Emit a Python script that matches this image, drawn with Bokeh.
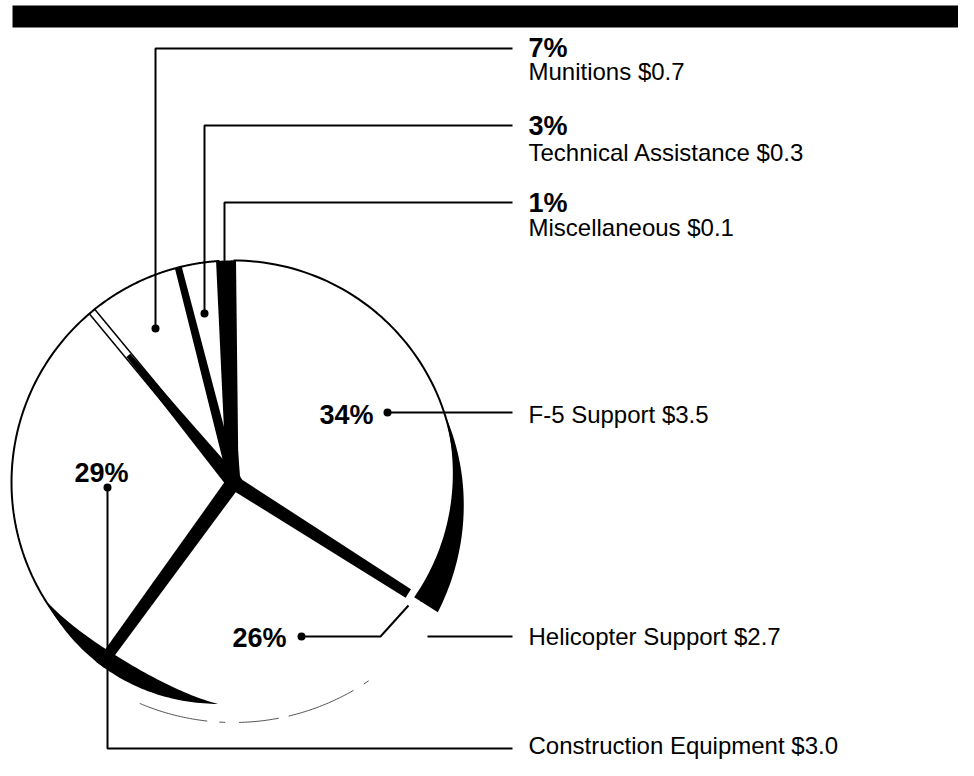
import numpy as np
from bokeh.plotting import figure
from bokeh.models import Range1d
from bokeh.embed import file_html
from bokeh.resources import INLINE
from bokeh.core.properties import value

# ---------------- data ----------------
categories = ["F-5 Support", "Helicopter Support", "Construction Equipment",
              "Munitions", "Technical Assistance", "Miscellaneous"]
amounts = [3.5, 2.7, 3.0, 0.7, 0.3, 0.1]          # $ values
percents = [34, 26, 29, 7, 3, 1]                   # share of total

# ---------------- layout / style ----------------
W, H = 958, 760
FONT = "Liberation Sans"
PCT_SIZE, LAB_SIZE = 27, 24
PCT_SHIFT, LAB_SHIFT = 10, 9                       # renderer baseline correction
CX, CY, R = 233.0, 482.0, 222.0                    # pie apex and radius (screen px)
slice_fill = ["white", "white", "white", "white", "white", "black"]
slice_rextra = [0, 18, 0, 0, 0, 0]

p = figure(width=W, height=H, x_range=Range1d(0, W), y_range=Range1d(H, 0),
           output_backend="svg", toolbar_location=None, min_border=0,
           x_axis_location=None, y_axis_location=None)
p.grid.visible = False
p.outline_line_color = None
p.background_fill_color = "white"
p.border_fill_color = "white"


def pt(r, ang, cx=CX, cy=CY):
    a = np.radians(ang)
    return cx + r * np.cos(a), cy - r * np.sin(a)


# angles of slices (clockwise from 12 o'clock)
starts, ends = [], []
a = 90.0
for pc in percents:
    starts.append(a)
    a -= pc * 3.6
    ends.append(a)

# header bar
p.quad(left=[12], right=[W], top=[5], bottom=[27], fill_color="black", line_color=None)

# slices
order = [1, 2, 3, 4, 0, 5]
xs, ys, fills = [], [], []
for i in order:
    rr = R + slice_rextra[i]
    angs = np.linspace(starts[i], ends[i], 80)
    px, py = pt(rr, angs)
    xs.append([CX] + list(px))
    ys.append([CY] + list(py))
    fills.append(slice_fill[i])
p.patches(xs=xs, ys=ys, fill_color=fills, line_color=None)

# rims
rim_x, rim_y = [], []
for i in [0, 2, 3, 4]:
    angs = np.linspace(starts[i], ends[i], 80)
    px, py = pt(R, angs)
    rim_x.append(list(px))
    rim_y.append(list(py))
p.multi_line(xs=rim_x, ys=rim_y, line_color="black", line_width=2)

# thin radial lines at construction / munitions edge
for off in (-3.5, 3.5):
    ang = starts[3]
    nx, ny = np.sin(np.radians(ang)), np.cos(np.radians(ang))
    x0, y0 = CX + off * nx, CY + off * ny
    x1, y1 = pt(R, ang, x0, y0)
    p.line([x0, x1], [y0, y1], line_color="black", line_width=1.5)

# black separator bands (boundary angle, width at apex, width at end, end radius)
band_specs = [
    (starts[0], 10, 5, R),
    (ends[0], 14, 10, 207),
    (ends[1], 15, 11, R + 4),
    (starts[3], 15, 5, 165),
    (starts[4], 10, 7, R),
    (starts[5], 14, 7, R),
]
bx, by = [], []
for ang, w0, w1, re in band_specs:
    ar = np.radians(ang)
    ux, uy = np.cos(ar), -np.sin(ar)
    nx, ny = np.sin(ar), np.cos(ar)
    ex, ey = CX + ux * re, CY + uy * re
    bx.append([CX + nx * w0 / 2, ex + nx * w1 / 2, ex - nx * w1 / 2, CX - nx * w0 / 2])
    by.append([CY + ny * w0 / 2, ey + ny * w1 / 2, ey - ny * w1 / 2, CY - ny * w0 / 2])
p.patches(xs=bx, ys=by, fill_color="black", line_color=None)
p.scatter([CX], [CY], size=18, fill_color="black", line_color=None)

# F-5 shaded side
phi = np.linspace(18, ends[0], 60)
f = (18 - phi) / (18 - ends[0])
ox, oy = pt(R + 20 * f, phi)
ix, iy = pt(R - 8 * f, phi)
p.patch(list(ox) + list(ix[::-1]), list(oy) + list(iy[::-1]), fill_color="black", line_color=None)

# lower-left shaded side
phi = np.linspace(212, 266, 60)
s = np.sin(np.pi * (phi - 212) / 54)
ox, oy = pt(R + 4 * s, phi)
ix, iy = pt(R - 13 * s, phi)
p.patch(list(ox) + list(ix[::-1]), list(oy) + list(iy[::-1]), fill_color="black", line_color=None)

# faint helicopter rim
angs = np.linspace(-113, -55, 80)
hx, hy = pt(R + 18, angs)
p.line(list(hx), list(hy), line_color="#555555", line_width=1, line_dash="70 12 6 14 40 10")

# ---------------- leaders & labels ----------------
# pct / lab give the desired visual baseline of the texts
leaders = {
    "F-5 Support": dict(path=[[(387, 412), (512, 412)]], dot=(387, 412),
                        pct=(373, 424, "right"), lab=(528, 423)),
    "Helicopter Support": dict(path=[[(301, 636), (380, 636), (408, 605)], [(427, 636), (512, 636)]],
                               dot=(301, 636), pct=(286, 647, "right"), lab=(528, 645)),
    "Construction Equipment": dict(path=[[(107, 487), (107, 748), (512, 748)]], dot=(107, 487),
                                   pct=(101, 482, "center"), lab=(528, 754)),
    "Munitions": dict(path=[[(155, 328), (155, 48), (512, 48)]], dot=(155, 328),
                      pct=(528, 57, "left"), lab=(528, 80)),
    "Technical Assistance": dict(path=[[(204, 313), (204, 125), (512, 125)]], dot=(204, 313),
                                 pct=(528, 135, "left"), lab=(528, 161)),
    "Miscellaneous": dict(path=[[(224, 263), (224, 202), (512, 202)]], dot=None,
                          pct=(528, 212, "left"), lab=(528, 236)),
}

for cat, amt, pc in zip(categories, amounts, percents):
    L = leaders[cat]
    for seg in L["path"]:
        p.line([q[0] for q in seg], [q[1] for q in seg], line_color="black", line_width=2)
    if L["dot"] is not None:
        p.scatter([L["dot"][0]], [L["dot"][1]], size=8, fill_color="black", line_color=None)
    x, y, al = L["pct"]
    p.text([x], [y - PCT_SHIFT], text=[f"{pc}%"], text_font=value(FONT),
           text_font_size=f"{PCT_SIZE}px", text_font_style="bold", text_align=al,
           text_baseline="alphabetic", text_color="black")
    x, y = L["lab"]
    p.text([x], [y - LAB_SHIFT], text=[f"{cat} ${amt:.1f}"], text_font=value(FONT),
           text_font_size=f"{LAB_SIZE}px", text_align="left",
           text_baseline="alphabetic", text_color="black")

open("out.html", "w").write(file_html(p, INLINE))
